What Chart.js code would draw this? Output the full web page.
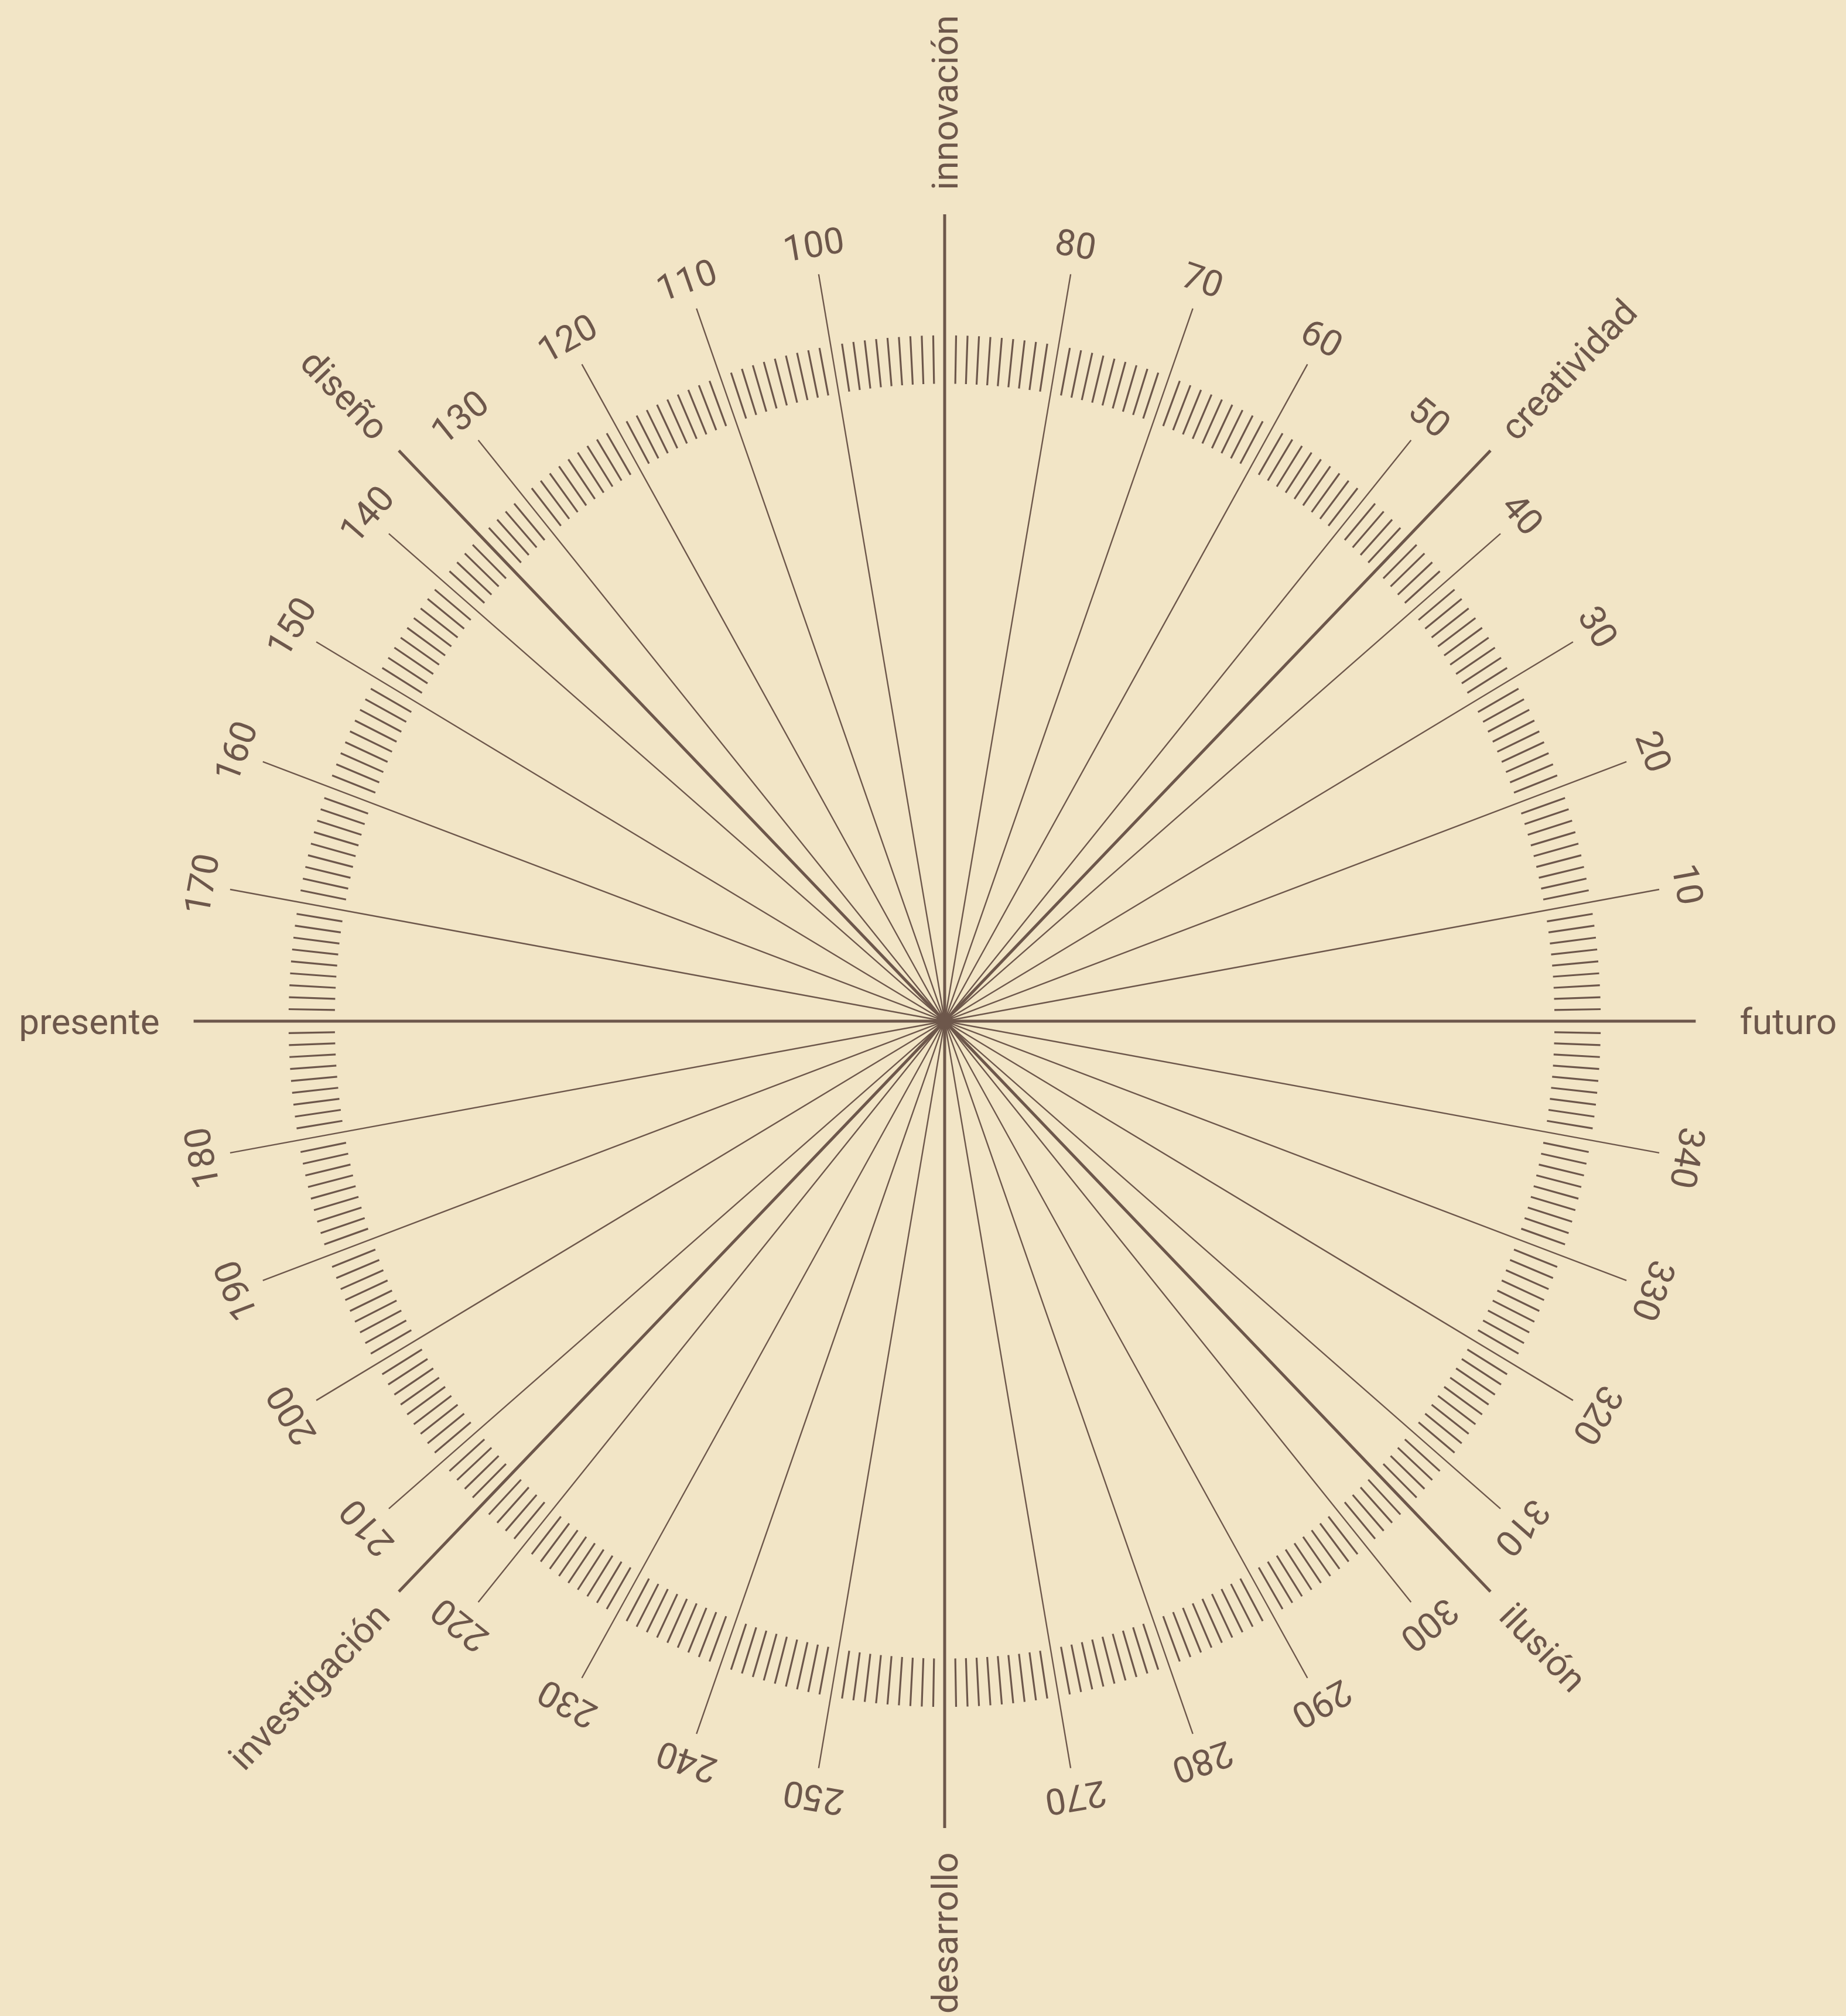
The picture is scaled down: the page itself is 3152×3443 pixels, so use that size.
<!DOCTYPE html>
<html>
<head>
<meta charset="utf-8">
<script src="https://cdn.jsdelivr.net/npm/chart.js"></script>
<style>
  html, body { margin: 0; padding: 0; background: #f2e5c6; }
  #chart { display: block; }
</style>
</head>
<body>
<canvas id="chart" width="3152" height="3443"></canvas>
<script>
// angles in degrees, counter-clockwise, 0 = "futuro"
const axisAngles = [0, 45, 90, 135, 180, 225, 270, 315];
const axisLabels = ["futuro", "creatividad", "innovación", "diseño", "presente", "investigación", "desarrollo", "ilusión"];

const spokeAngles = [10, 20, 30, 40, 50, 60, 70, 80, 100, 110, 120, 130, 140, 150, 160, 170,
  190, 200, 210, 220, 230, 240, 250, 260, 280, 290, 300, 310, 320, 330, 340, 350];
const spokeLabels = ["10", "20", "30", "40", "50", "60", "70", "80", "100", "110", "120", "130", "140", "150", "160", "170",
  "180", "190", "200", "210", "220", "230", "240", "250", "270", "280", "290", "300", "310", "320", "330", "340"];

// graduation: one tick per degree, except where a spoke or an axis sits
const tickAngles = [];
for (let a = 0; a < 360; a++) {
  if (a % 10 !== 0 && a % 45 !== 0) tickAngles.push(a);
}

const INK = "#6d574b";
const PAPER = "#f2e5c6";
const FONT = "Roboto, 'DejaVu Sans', sans-serif";

const R_AXIS = 1;
const R_AXIS_H = 0.973;
const R_SPOKE = 0.94;
const R_TICK_IN = 0.79;
const R_TICK_OUT = 0.85;
const R_NUM = 0.978;
const R_WORD = 1.03;
const R_WORD_LEFT = 1.017;

const rad = (d) => (d * Math.PI) / 180;
const pt = (a, r) => ({ x: r * Math.cos(rad(a)), y: r * Math.sin(rad(a)) });

function segments(angles, r0, r1) {
  const out = [];
  angles.forEach((a) => {
    const len = typeof r1 === "function" ? r1(a) : r1;
    out.push(pt(a, r0), pt(a, len), { x: null, y: null });
  });
  return out;
}

const lineStyle = {
  showLine: true,
  borderColor: INK,
  pointRadius: 0,
  pointHoverRadius: 0,
  spanGaps: false,
  tension: 0,
  borderCapStyle: "butt",
};

const labelPlugin = {
  id: "radialLabels",
  beforeDraw(chart) {
    const { ctx, width, height } = chart;
    ctx.save();
    ctx.fillStyle = PAPER;
    ctx.fillRect(0, 0, width, height);
    ctx.restore();
  },
  afterDatasetsDraw(chart) {
    const { ctx, scales: { x, y } } = chart;
    const cx = x.getPixelForValue(0);
    const cy = y.getPixelForValue(0);
    const toPx = (p) => [x.getPixelForValue(p.x), y.getPixelForValue(p.y)];

    ctx.save();
    ctx.fillStyle = INK;
    ctx.textBaseline = "alphabetic";

    // degree numbers, tangential, tops facing outward
    const numSize = 62;
    ctx.font = `${numSize}px ${FONT}`;
    ctx.textAlign = "center";
    spokeAngles.forEach((a, i) => {
      const [px, py] = toPx(pt(a, R_NUM));
      const phi = Math.atan2(cy - py, px - cx);
      ctx.save();
      ctx.translate(px, py);
      ctx.rotate(Math.PI / 2 - phi);
      ctx.fillText(spokeLabels[i], 0, numSize * 0.355);
      ctx.restore();
    });

    // axis words, along the radius
    const wordSize = 62;
    ctx.font = `${wordSize}px ${FONT}`;
    axisAngles.forEach((a, i) => {
      const [px, py] = toPx(pt(a, a === 180 ? R_WORD_LEFT : R_WORD));
      const phi = Math.atan2(cy - py, px - cx);
      const outward = Math.cos(rad(a)) > 1e-6 || a === 90;
      ctx.save();
      ctx.translate(px, py);
      ctx.rotate(outward ? -phi : Math.PI - phi);
      ctx.textAlign = outward ? "left" : "right";
      ctx.fillText(axisLabels[i], 0, wordSize * 0.36);
      ctx.restore();
    });
    ctx.restore();
  },
};

new Chart(document.getElementById("chart"), {
  type: "scatter",
  data: {
    datasets: [
      { ...lineStyle, label: "ticks", data: segments(tickAngles, R_TICK_IN, R_TICK_OUT), borderWidth: 3.2 },
      { ...lineStyle, label: "spokes", data: segments(spokeAngles, 0, R_SPOKE), borderWidth: 2.4 },
      {
        ...lineStyle,
        label: "axes",
        data: segments(axisAngles, 0, (a) => (a % 180 === 0 ? R_AXIS_H : R_AXIS)),
        borderWidth: 5,
      },
    ],
  },
  options: {
    responsive: false,
    animation: false,
    devicePixelRatio: 1,
    layout: { padding: 0 },
    events: [],
    scales: {
      x: { type: "linear", min: -1.2238, max: 1.1677, display: false },
      y: { type: "linear", min: -1.233, max: 1.2656, display: false },
    },
    plugins: {
      legend: { display: false },
      tooltip: { enabled: false },
    },
  },
  plugins: [labelPlugin],
});
</script>
</body>
</html>
